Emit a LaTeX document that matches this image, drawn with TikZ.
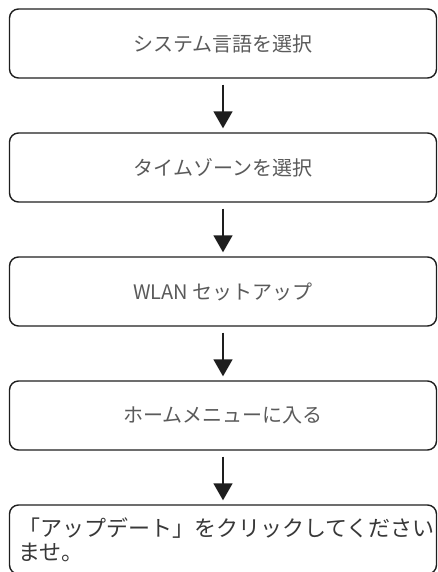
\documentclass[tikz,border=0pt]{standalone}
\usepackage{fontspec}
\setmainfont{Noto Sans CJK JP}
\usepackage{tikz}
\usetikzlibrary{arrows.meta}
\usetikzlibrary{positioning}

\definecolor{boxline}{HTML}{1E1E1E}
\definecolor{steptext}{HTML}{5A5A5A}
\definecolor{lasttext}{HTML}{383838}

\begin{document}
\begin{tikzpicture}[
    stepbox/.style={rectangle, rounded corners=9pt, draw=boxline, line width=1.4pt,
      minimum width=427pt, minimum height=69pt, text=steptext,
      font=\fontsize{20}{22}\selectfont},
    flow/.style={line width=1.5pt, draw=boxline,
      -{Triangle[length=17pt,width=19pt]}, shorten <=6pt, shorten >=4pt}]
  \useasboundingbox (0,0) rectangle (437pt,-572pt);

  \node[stepbox] (lang) at (223pt,-43.5pt) {システム言語を選択};
  \node[stepbox, below of=lang, node distance=124pt] (zone) {タイムゾーンを選択};
  \node[stepbox, below of=zone, node distance=124pt] (wlan) {WLAN セットアップ};
  \node[stepbox, below of=wlan, node distance=124pt] (home) {ホームメニューに入る};
  \node[stepbox, below of=home, node distance=124pt, text=lasttext, align=left,
    text width=410pt, font=\fontsize{22}{24}\selectfont] (update)
    {「アップデート」をクリックしてください\\ませ。};

  \draw[flow] (lang) -- (zone);
  \draw[flow] (zone) -- (wlan);
  \draw[flow] (wlan) -- (home);
  \draw[flow] (home) -- (update);
\end{tikzpicture}
\end{document}
